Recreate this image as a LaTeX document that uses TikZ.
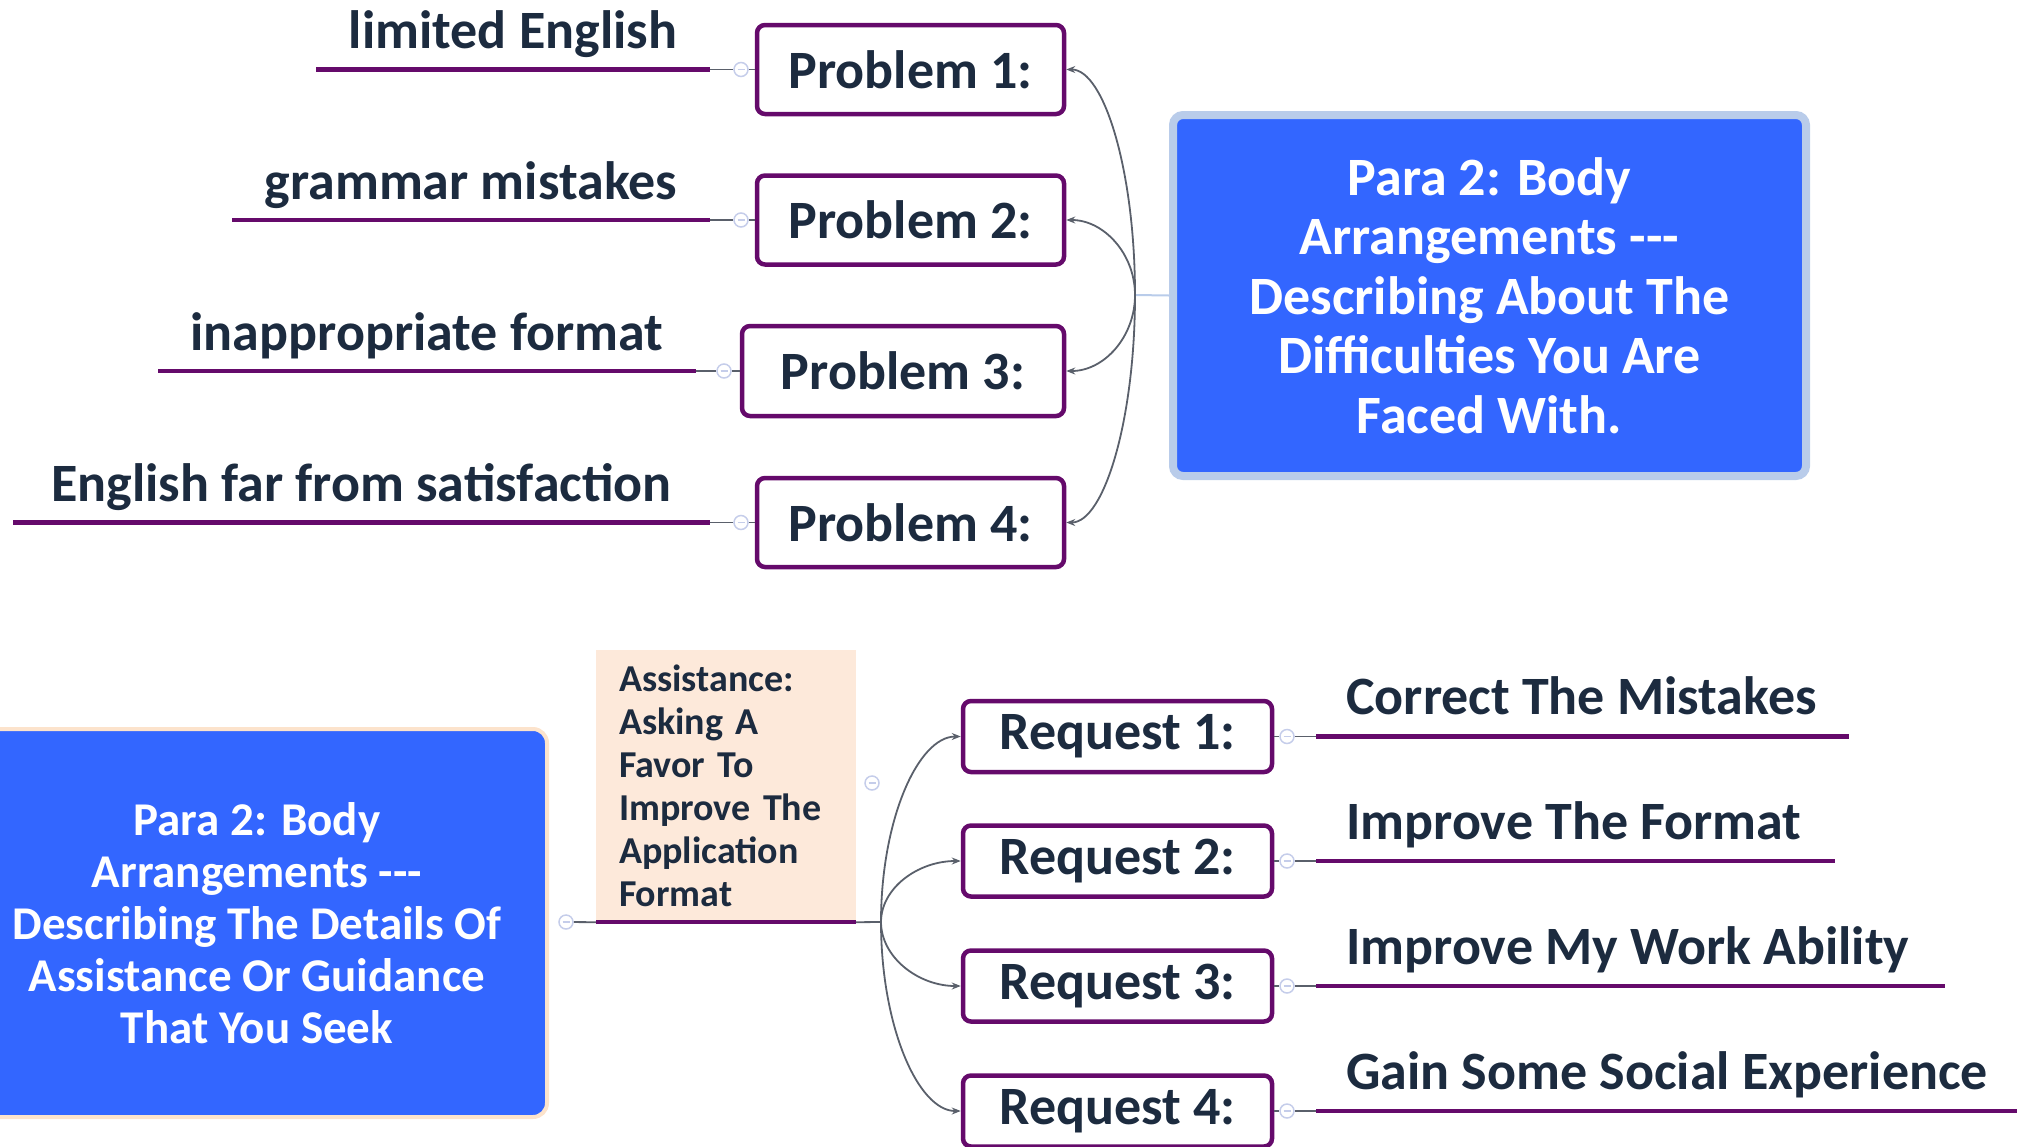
\documentclass[tikz,border=0pt]{standalone}
\usepackage{fontspec}
\setmainfont{Carlito}
\usetikzlibrary{arrows.meta}
\definecolor{purp}{HTML}{650A6B}
\definecolor{navy}{HTML}{1C2B3F}
\definecolor{mblue}{HTML}{3366FF}
\definecolor{lblue}{HTML}{B9CCEA}
\definecolor{peach}{HTML}{FDE9DA}
\definecolor{peachb}{HTML}{FCE3CC}
\definecolor{conn}{HTML}{5A606B}
\definecolor{circ}{HTML}{C5CDEA}
\begin{document}
\begin{tikzpicture}[x=1pt,y=-1pt,
  probbox/.style={draw=purp, line width=4.5pt, rounded corners=8pt, fill=white, text=navy,
    font=\bfseries\fontsize{54}{60}\selectfont, inner sep=0pt, minimum width=307pt, minimum height=89pt},
  reqbox/.style={probbox, minimum width=309pt, minimum height=71pt},
  topic/.style={text=navy, font=\bfseries\fontsize{54}{60}\selectfont, inner sep=0pt},
  uline/.style={draw=purp, line width=4.5pt},
  conn/.style={draw=conn, line width=1.8pt},
  arr/.style={conn, -{Stealth[length=9pt,width=7pt]}},
  tog/.style={circle, draw=circ, line width=1.5pt, fill=white, minimum size=14pt, inner sep=0pt,
    path picture={\draw[circ, line width=1.2pt] ([xshift=-3.5pt]path picture bounding box.center) -- ([xshift=3.5pt]path picture bounding box.center);}},
]
\useasboundingbox (0,0) rectangle (2017,1146);

% ---------- top part ----------
\node[draw=lblue, line width=8pt, fill=mblue, rounded corners=10pt, minimum width=633pt, minimum height=361pt,
  text=white, align=center, font=\bfseries\fontsize{54}{59.5}\selectfont, inner sep=0pt]
  (topblue) at (1489.5,295.5) {Para 2: Body\\Arrangements {-}{-}{-}\\Describing About The\\Di{f}{f}iculties You Are\\Faced With.};

\node[probbox] (p1) at (910.5,69.5) {Problem 1:};
\node[probbox] (p2) at (910.5,220) {Problem 2:};
\node[probbox, minimum width=322pt, minimum height=90pt] (p3) at (903,371) {Problem 3:\hspace{18pt}};
\node[probbox] (p4) at (910.5,522.5) {Problem 4:};

\coordinate (j1) at (1135,295);
\draw[draw=lblue, line width=2pt] (j1) -- (topblue.west);
\draw[arr] (j1) .. controls (1135,171) and (1104,69.5) .. (p1.east);
\draw[arr] (j1) .. controls (1135,254) and (1104,220) .. (p2.east);
\draw[arr] (j1) .. controls (1135,337) and (1104,371) .. (p3.east);
\draw[arr] (j1) .. controls (1135,420) and (1104,522.5) .. (p4.east);

\node[tog] (c1) at (741,69.5) {};
\node[tog] (c2) at (741,220) {};
\node[tog] (c3) at (724,371) {};
\node[tog] (c4) at (741,522.5) {};

\coordinate (u1s) at (316,69.5);  \coordinate (u1e) at (710,69.5);
\coordinate (u2s) at (232,220);   \coordinate (u2e) at (710,220);
\coordinate (u3s) at (158,371);   \coordinate (u3e) at (696,371);
\coordinate (u4s) at (13,522.5);  \coordinate (u4e) at (710,522.5);

\foreach \i in {1,2,3,4}{
  \draw[conn] (u\i e) -- (c\i);
  \draw[conn] (c\i) -- (p\i);
  \draw[uline] (u\i s) -- (u\i e);
}

\node[topic, anchor=base] (t1) at (513,48.5) {limited English};
\node[topic, anchor=base] (t2) at (471,199) {grammar mistakes};
\node[topic, anchor=base] (t3) at (427,350) {inappropriate format};
\node[topic, anchor=base] (t4) at (361.5,501.5) {English far from satisfaction};

% ---------- bottom part ----------
\node[draw=peachb, line width=4pt, fill=mblue, rounded corners=14pt, minimum width=580pt, minimum height=388pt,
  text=white, align=center, font=\bfseries\fontsize{47}{52}\selectfont, inner sep=0pt]
  (botblue) at (257,923) {Para 2: Body\\Arrangements {-}{-}{-}\\Describing The Details Of\\Assistance Or Guidance\\That You Seek};

\node[fill=peach, minimum width=260pt, minimum height=272pt, text width=214pt, align=left,
  text=navy, font=\bfseries\fontsize{38}{43}\selectfont, inner sep=0pt]
  (asst) at (726,786) {Assistance:\\Asking A\\Favor To\\Improve The\\Application\\Format};
\draw[uline] (asst.south west) -- (asst.south east);

\node[tog] (c5) at (566,922) {};
\node[tog] (c6) at (872,783) {};
\draw[conn] (c5) -- (asst.south west);

\node[reqbox] (r1) at (1117.5,736.5) {Request 1:\hspace{12pt}};
\node[reqbox] (r2) at (1117.5,861) {Request 2:\hspace{12pt}};
\node[reqbox] (r3) at (1117.5,986) {Request 3:\hspace{12pt}};
\node[reqbox] (r4) at (1117.5,1111) {Request 4:\hspace{12pt}};

\coordinate (j2) at (881,922);
\draw[conn] (asst.south east) -- (j2);
\draw[arr] (j2) .. controls (881,820) and (918,736.5) .. (r1.west);
\draw[arr] (j2) .. controls (881,888) and (918,861) .. (r2.west);
\draw[arr] (j2) .. controls (881,957) and (918,986) .. (r3.west);
\draw[arr] (j2) .. controls (881,1026) and (918,1111) .. (r4.west);

\node[tog] (d1) at (1287,736.5) {};
\node[tog] (d2) at (1287,861) {};
\node[tog] (d3) at (1287,986) {};
\node[tog] (d4) at (1287,1111) {};

\coordinate (v1s) at (1316,736.5); \coordinate (v1e) at (1849,736.5);
\coordinate (v2s) at (1316,861);   \coordinate (v2e) at (1835,861);
\coordinate (v3s) at (1316,986);   \coordinate (v3e) at (1945,986);
\coordinate (v4s) at (1316,1111);  \coordinate (v4e) at (2030,1111);

\foreach \i in {1,2,3,4}{
  \draw[conn] (r\i) -- (d\i);
  \draw[conn] (d\i) -- (v\i s);
  \draw[uline] (v\i s) -- (v\i e);
}

\node[topic, anchor=base west] (s1) at (1346,714.5) {Correct The Mistakes};
\node[topic, anchor=base west] (s2) at (1346,839) {Improve The Format};
\node[topic, anchor=base west] (s3) at (1346,964) {Improve My Work Ability};
\node[topic, anchor=base west] (s4) at (1346,1089) {Gain Some Social Experience};
\end{tikzpicture}
\end{document}
